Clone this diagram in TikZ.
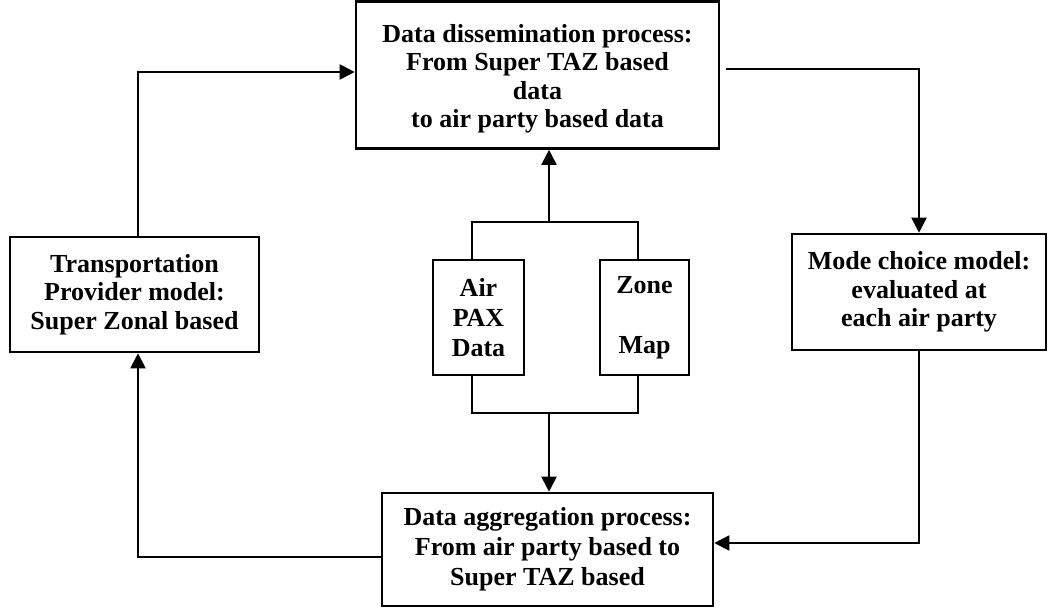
\documentclass[tikz,border=0pt]{standalone}
\usepackage{fontspec}
\setmainfont{Liberation Serif}
\usetikzlibrary{arrows.meta}
\tikzset{
  box/.style={draw, line width=2.6pt, inner sep=0pt, align=center,
    font=\fontsize{26}{28.5}\selectfont\bfseries},
  txt/.style={inner sep=0pt, align=center, font=\fontsize{26}{28.5}\selectfont\bfseries},
  conn/.style={line width=2pt, line join=miter},
  arr/.style={conn, -{Triangle[length=15pt,width=15pt]}}
}
\begin{document}
\begin{tikzpicture}[x=1pt,y=-1pt]
\useasboundingbox (0,0) rectangle (1050,608);
\node[box, minimum width=363pt, minimum height=147pt] (top) at (537.5,75) {};
\node[txt] (toptext) at ([yshift=-4pt]top.center)
  {Data dissemination process:\\From Super TAZ based\\data\\to air party based data};
\node[box, minimum width=249pt, minimum height=115pt] (left) at (134.5,294.5)
  {Transportation\\Provider model:\\Super Zonal based};
\node[box, minimum width=254pt, minimum height=116pt] (right) at (919,292)
  {Mode choice model:\\evaluated at\\each air party};
\node[box, minimum width=331pt, minimum height=113pt, font=\fontsize{26}{30}\selectfont\bfseries] (bottom) at (547.5,549.5)
  {Data aggregation process:\\From air party based to\\Super TAZ based};
\node[box, minimum width=91pt, minimum height=115pt, font=\fontsize{26}{30}\selectfont\bfseries] (air) at (478.5,317.5)
  {Air\\PAX\\Data};
\node[box, minimum width=89pt, minimum height=115pt, font=\fontsize{26}{30}\selectfont\bfseries] (zone) at (644.5,317.5)
  {Zone\\\strut\\Map};
\coordinate (jtop) at (549,222);
\coordinate (jbot) at (549,413);
\draw[conn] ([xshift=-6.5pt]air.north) |- (jtop) -| ([xshift=-6.5pt]zone.north);
\draw[conn] ([xshift=-6.5pt]air.south) |- (jbot) -| ([xshift=-6.5pt]zone.south);
\draw[arr] (jtop) -- (jtop |- top.south);
\draw[arr] (jbot) -- (jbot |- bottom.north);
\draw[arr] ([xshift=3.5pt]left.north) |- ([yshift=3pt]top.west);
\draw[arr] ([xshift=6pt,yshift=6.5pt]top.east) -| (right.north);
\draw[arr] (right.south) |- ([yshift=6.5pt]bottom.east);
\draw[arr] ([yshift=-7.5pt]bottom.west) -| ([xshift=3.5pt]left.south);
\end{tikzpicture}
\end{document}
